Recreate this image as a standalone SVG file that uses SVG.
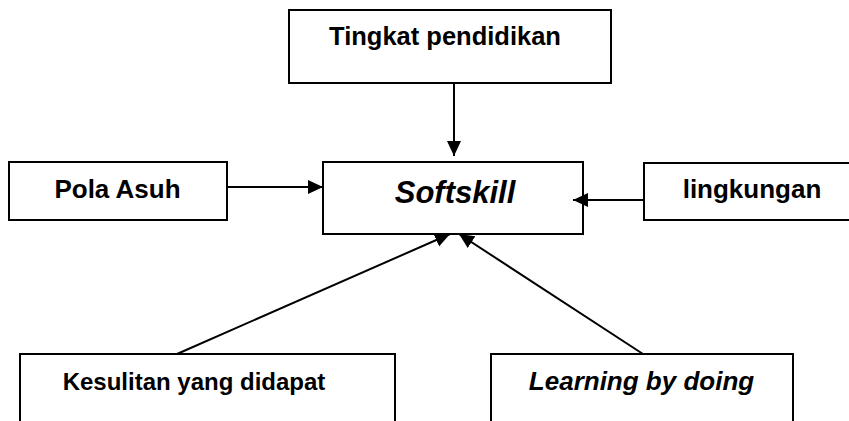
<svg xmlns="http://www.w3.org/2000/svg" width="849" height="421" viewBox="0 0 849 421">
<style>
.box{fill:#fff;stroke:#000;stroke-width:2}
.t{font-family:"Liberation Sans",Arial,sans-serif;font-weight:bold;fill:#000;text-anchor:middle}
.i{font-style:italic}
.c{stroke:#000;stroke-width:2;fill:none;marker-end:url(#ah)}
</style>
<defs>
<marker id="ah" markerUnits="userSpaceOnUse" markerWidth="16" markerHeight="15" refX="15" refY="7" orient="auto">
<path d="M0,0 L15,7 L0,14 z" fill="#000"/>
</marker>
</defs>
<rect width="849" height="421" fill="#fff"/>
<g id="tingkat"><rect class="box" x="289" y="10" width="322" height="73"/><text class="t" x="445" y="45" font-size="25.5">Tingkat pendidikan</text></g>
<g id="softskill"><rect class="box" x="323" y="162" width="260" height="72"/><text class="t i" x="455" y="203" font-size="31">Softskill</text></g>
<g id="pola"><rect class="box" x="9" y="162" width="218" height="58"/><text class="t" x="117.5" y="198" font-size="26">Pola Asuh</text></g>
<g id="lingkungan"><rect class="box" x="644" y="163" width="210" height="57"/><text class="t" x="752" y="198" font-size="26">lingkungan</text></g>
<g id="kesulitan"><rect class="box" x="20" y="354" width="375" height="80"/><text class="t" x="194" y="390" font-size="24">Kesulitan yang didapat</text></g>
<g id="learning"><rect class="box" x="491" y="354" width="302" height="80"/><text class="t i" x="641.5" y="390" font-size="26">Learning by doing</text></g>
<g id="connectors">
<line class="c" x1="454" y1="83" x2="454" y2="156"/>
<line class="c" x1="227" y1="187" x2="323" y2="187"/>
<line class="c" x1="644" y1="200" x2="573" y2="200"/>
<line class="c" x1="177" y1="354" x2="450" y2="234"/>
<line class="c" x1="643" y1="354" x2="459" y2="234"/>
</g>
</svg>
